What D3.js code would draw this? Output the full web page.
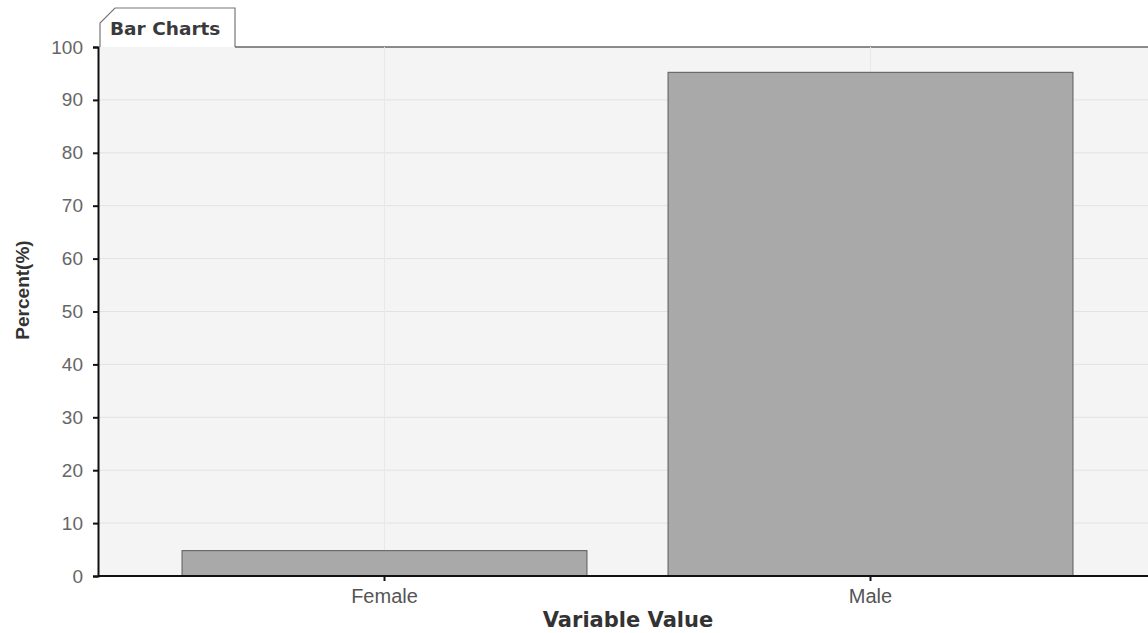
<!DOCTYPE html>
<html><head><meta charset="utf-8">
<script src="https://cdn.jsdelivr.net/npm/d3@7"></script>
<style>body{margin:0;background:#fff;} svg{display:block;}</style>
</head><body>
<svg id="chart" width="1148" height="633"></svg>
<script>
const categories = ["Female", "Male"];
const values = [4.8, 95.2];
const yTicks = [0,10,20,30,40,50,60,70,80,90,100];
const title = "Bar Charts";
const xTitle = "Variable Value";
const yTitle = "Percent(%)";

const svg = d3.select("#chart");
const mLeft = 98, mTop = 47, mBottom = 576, mRight = 1157;
const x = d3.scaleBand().domain(categories).range([mLeft, mRight]).paddingInner(0.167).paddingOuter(0.173);
const y = d3.scaleLinear().domain([0,100]).range([mBottom, mTop]);

// tab
const tab = svg.append("g");
tab.append("path")
  .attr("d", `M${mLeft+2},${mTop} L${mLeft+2},${23} L${mLeft+17},${8} L${235},${8} L${235},${mTop}`)
  .attr("fill","#fff").attr("stroke","#777").attr("stroke-width",1.2);
tab.append("text").attr("x", mLeft+12).attr("y", 35)
  .attr("font-family","'DejaVu Sans', Verdana, sans-serif").attr("font-weight","bold")
  .attr("font-size",18.5).attr("fill","#3a3a3a").text(title);

// plot background
svg.append("rect").attr("x",mLeft).attr("y",mTop).attr("width",1148-mLeft).attr("height",mBottom-mTop)
  .attr("fill","#f4f4f4");
svg.append("line").attr("x1",235).attr("x2",1148).attr("y1",mTop).attr("y2",mTop)
  .attr("stroke","#666").attr("stroke-width",1.5);

// gridlines
svg.append("g").selectAll("line").data(yTicks.filter(d=>d>0 && d<100)).join("line")
  .attr("x1",mLeft).attr("x2",1148).attr("y1",d=>y(d)).attr("y2",d=>y(d))
  .attr("stroke","#e2e2e2").attr("stroke-width",1);
svg.append("g").selectAll("line").data(categories).join("line")
  .attr("x1",d=>x(d)+x.bandwidth()/2).attr("x2",d=>x(d)+x.bandwidth()/2)
  .attr("y1",mTop).attr("y2",mBottom).attr("stroke","#e8e8e8");

// bars
svg.append("g").selectAll("rect").data(categories).join("rect")
  .attr("x",d=>x(d)).attr("width",x.bandwidth())
  .attr("y",(d,i)=>y(values[i])).attr("height",(d,i)=>mBottom-y(values[i]))
  .attr("fill","#a9a9a9").attr("stroke","#6a6a6a").attr("stroke-width",1.2);

// axes
const yAxis = d3.axisLeft(y).tickValues(yTicks).tickSize(5).tickPadding(10);
const gy = svg.append("g").attr("transform",`translate(${mLeft},0)`).call(yAxis);
gy.select(".domain").attr("stroke","#111").attr("stroke-width",2);
gy.selectAll(".tick line").attr("stroke","#111").attr("stroke-width",2);
gy.selectAll("text").attr("font-family","'Liberation Sans', Arial, sans-serif").attr("font-size",19).attr("fill","#666");

const xAxis = d3.axisBottom(x).tickSize(5).tickPadding(8);
const gx = svg.append("g").attr("transform",`translate(0,${mBottom})`).call(xAxis);
gx.select(".domain").attr("d",`M${mLeft},0H1148`).attr("stroke","#111").attr("stroke-width",2);
gx.selectAll(".tick line").attr("stroke","#111").attr("stroke-width",2);
gx.selectAll("text").attr("font-family","'Liberation Sans', Arial, sans-serif").attr("font-size",20).attr("fill","#555");

// axis titles
svg.append("text").attr("x",628).attr("y",627).attr("text-anchor","middle")
  .attr("font-family","'DejaVu Sans', Verdana, sans-serif").attr("font-weight","bold")
  .attr("font-size",21).attr("fill","#333").text(xTitle);
svg.append("text").attr("transform","translate(29,290) rotate(-90)").attr("text-anchor","middle")
  .attr("font-family","'Liberation Sans', Arial, sans-serif").attr("font-weight","bold")
  .attr("font-size",19).attr("fill","#333").text(yTitle);
</script>
</body></html>
